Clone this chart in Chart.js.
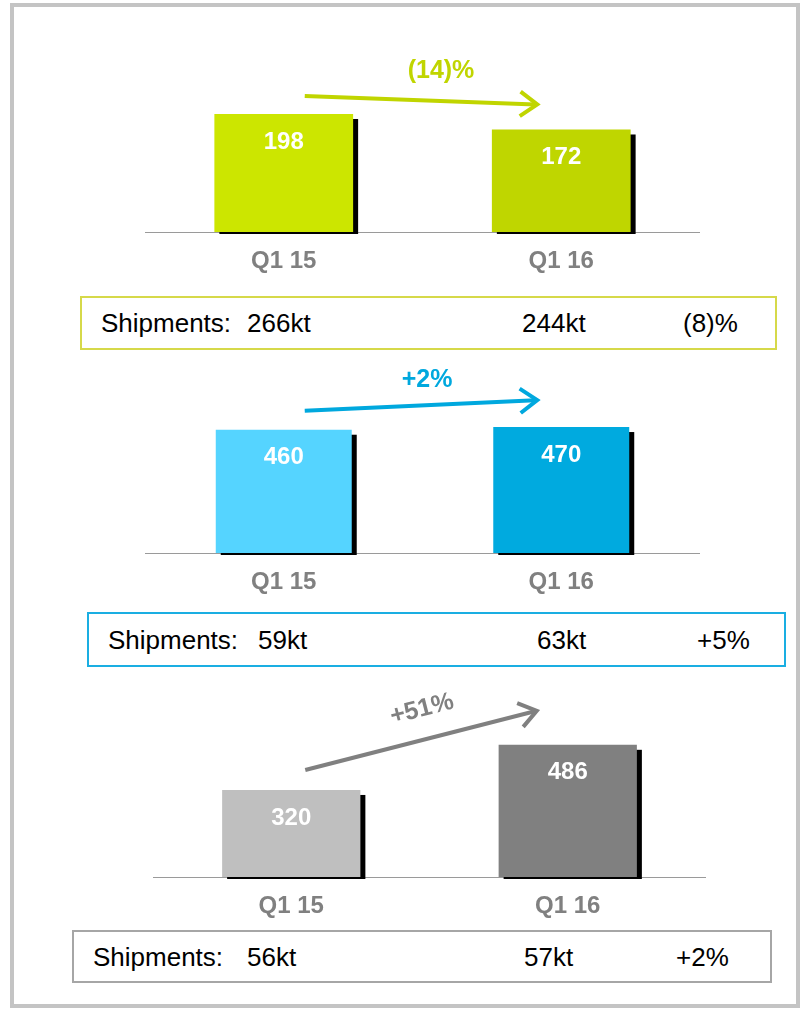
<!DOCTYPE html>
<html>
<head>
<meta charset="utf-8">
<script src="https://cdn.jsdelivr.net/npm/chart.js"></script>
<style>
  html, body { margin: 0; padding: 0; background: #fff; }
  #page { position: relative; width: 803px; height: 1009px; overflow: hidden; font-family: "Liberation Sans", Arial, sans-serif; }
  #frame { position: absolute; left: 10px; top: 3px; width: 790px; height: 1005px; box-sizing: border-box; border: 4px solid #c4c4c4; }
  canvas { position: absolute; }
  .ship { position: absolute; box-sizing: border-box; border: 2px solid; }
  .ship span { position: absolute; top: 50%; transform: translateY(-50%); font-size: 26px; color: #000; white-space: nowrap; line-height: 1; }
</style>
</head>
<body>
<div id="page">
  <div id="frame"></div>
  <canvas id="c1" width="555" height="237" style="left:145px;top:40px"></canvas>
  <canvas id="c2" width="555" height="238" style="left:145px;top:360px"></canvas>
  <canvas id="c3" width="553" height="242" style="left:153px;top:680px"></canvas>
  <div class="ship" id="s1" style="left:80px;top:296px;width:697px;height:54px;border-color:#d6d94a"></div>
  <div class="ship" id="s2" style="left:87px;top:612px;width:699px;height:55px;border-color:#1aaee2"></div>
  <div class="ship" id="s3" style="left:72px;top:930px;width:700px;height:53px;border-color:#a6a6a6"></div>
</div>
<script>
// Quarters compared in every panel
const categories = ['Q1 15', 'Q1 16'];

// Bar values per panel
const panel1Values = [198, 172];
const panel2Values = [460, 470];
const panel3Values = [320, 486];

// Year-on-year change shown above each pair of bars
const changeLabels = ['(14)%', '+2%', '+51%'];

// Shipment figures listed under each panel
const shipmentsQ115 = ['266kt', '59kt', '56kt'];
const shipmentsQ116 = ['244kt', '63kt', '57kt'];
const shipmentsChange = ['(8)%', '+5%', '+2%'];

const FONT = '"Liberation Sans", Arial, sans-serif';

// Drop shadow, value labels and the change arrow for a two-bar panel
const barDecor = {
  id: 'barDecor',
  beforeDatasetsDraw(chart) {
    const ctx = chart.ctx;
    const bars = chart.getDatasetMeta(0).data;
    ctx.save();
    ctx.fillStyle = '#000';
    bars.forEach(bar => {
      const p = bar.getProps(['x', 'y', 'base', 'width'], true);
      ctx.fillRect(p.x - p.width / 2 + 5, p.y + 5, p.width, p.base + 2 - (p.y + 5));
    });
    ctx.restore();
  },
  afterDatasetsDraw(chart, args, opts) {
    const ctx = chart.ctx;
    const bars = chart.getDatasetMeta(0).data;
    const values = chart.data.datasets[0].data;
    ctx.save();
    // value labels inside the bars
    ctx.fillStyle = '#fff';
    ctx.font = 'bold 24px ' + FONT;
    ctx.textAlign = 'center';
    ctx.textBaseline = 'middle';
    bars.forEach((bar, i) => {
      const p = bar.getProps(['x', 'y'], true);
      ctx.fillText(String(values[i]), p.x, p.y + 28);
    });

    // change arrow from the first bar towards the second
    const a = bars[0].getProps(['x', 'y'], true);
    const b = bars[1].getProps(['x', 'y'], true);
    const x0 = a.x + opts.start[0], y0 = a.y + opts.start[1];
    const x1 = b.x + opts.end[0], y1 = b.y + opts.end[1];
    const ang = Math.atan2(y1 - y0, x1 - x0);
    ctx.strokeStyle = opts.color;
    ctx.lineWidth = 4;
    ctx.lineCap = 'butt';
    ctx.beginPath();
    ctx.moveTo(x0, y0);
    ctx.lineTo(x1 - 2 * Math.cos(ang), y1 - 2 * Math.sin(ang));
    ctx.stroke();
    const arm = 21, spread = 0.62;
    ctx.lineJoin = 'miter';
    ctx.beginPath();
    ctx.moveTo(x1 - arm * Math.cos(ang - spread), y1 - arm * Math.sin(ang - spread));
    ctx.lineTo(x1, y1);
    ctx.lineTo(x1 - arm * Math.cos(ang + spread), y1 - arm * Math.sin(ang + spread));
    ctx.stroke();

    // change label above the arrow
    const mx = (x0 + x1) / 2 + opts.label[0];
    const my = (y0 + y1) / 2 + opts.label[1];
    ctx.translate(mx, my);
    if (opts.rotate) ctx.rotate(ang);
    ctx.fillStyle = opts.color;
    ctx.font = 'bold 25px ' + FONT;
    ctx.fillText(opts.text, 0, 0);
    ctx.restore();
  }
};

function makePanel(id, values, colors, cfg) {
  return new Chart(document.getElementById(id), {
    type: 'bar',
    data: {
      labels: categories,
      datasets: [{
        data: values,
        backgroundColor: colors,
        borderWidth: 0,
        categoryPercentage: 1,
        barPercentage: cfg.barPct
      }]
    },
    options: {
      responsive: false,
      animation: false,
      devicePixelRatio: 1,
      layout: { padding: { top: cfg.padTop, left: 0, right: 0, bottom: 0 } },
      scales: {
        x: {
          type: 'category',
          grid: { display: false, drawTicks: false },
          border: { display: true, color: '#9a9a9a', width: 1 },
          ticks: {
            color: '#808080',
            padding: 15,
            font: { family: FONT, weight: 'bold', size: 24 }
          },
          afterFit(scale) { scale.height = 45; }
        },
        y: { display: false, min: 0, max: cfg.max }
      },
      plugins: {
        legend: { display: false },
        tooltip: { enabled: false },
        barDecor: cfg.decor
      }
    },
    plugins: [barDecor]
  });
}

makePanel('c1', panel1Values, ['#cce600', '#bfd600'], {
  padTop: 43, max: 250, barPct: 0.5,
  decor: { color: '#c0d500', text: changeLabels[0], start: [21, -18], end: [-24, -25], label: [20, -29], rotate: false }
});
makePanel('c2', panel2Values, ['#55d4ff', '#00aadf'], {
  padTop: 59, max: 500, barPct: 0.49,
  decor: { color: '#00a8de', text: changeLabels[1], start: [21, -19], end: [-24, -27], label: [6, -25], rotate: false }
});
makePanel('c3', panel3Values, ['#bfbfbf', '#808080'], {
  padTop: 61, max: 500, barPct: 0.5,
  decor: { color: '#808080', text: changeLabels[2], start: [14, -20], end: [-31, -34], label: [1, -31], rotate: true }
});

// Shipment rows: label, Q1 15, Q1 16, change (x offsets inside each box)
const shipCols = [
  [19, 165, 440, 601],
  [19, 169, 448, 608],
  [19, 173, 450, 602]
];
['s1', 's2', 's3'].forEach((id, i) => {
  const box = document.getElementById(id);
  const texts = ['Shipments:', shipmentsQ115[i], shipmentsQ116[i], shipmentsChange[i]];
  texts.forEach((t, j) => {
    const s = document.createElement('span');
    s.textContent = t;
    s.style.left = shipCols[i][j] + 'px';
    box.appendChild(s);
  });
});
</script>
</body>
</html>
